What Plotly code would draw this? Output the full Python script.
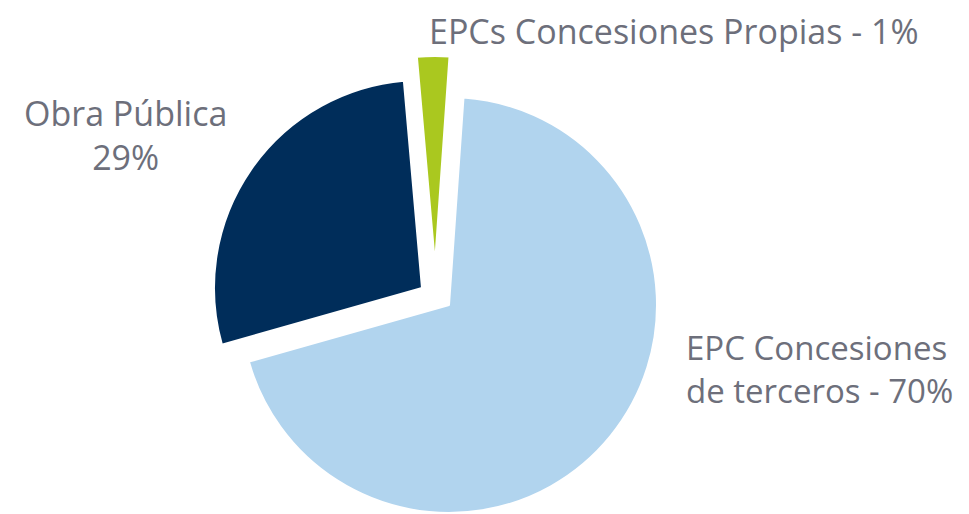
import plotly.graph_objects as go

# slice data
labels = ["EPC Concesiones de terceros", "Obra Pública", "EPCs Concesiones Propias"]
values = [69.5, 28.0, 2.5]
colors = ["#B1D4EE", "#002D5A", "#AAC81F"]

# text shown beside each slice
label_texts = [
    "EPC Concesiones<br>de terceros - 70%",
    "Obra Pública<br>29%",
    "EPCs Concesiones Propias - 1%",
]

# the page body has an 8px default margin, so the figure is shrunk by that
# much and every screen position below is shifted back by it
PAGE_MARGIN = 8
W, H = 969 - PAGE_MARGIN, 514 - PAGE_MARGIN
R = 208  # pie radius in px

# each slice is exploded by drawing it on its own pie with a shifted centre
# (screen px), so the explode offsets don't shrink the radius
centres = [(449, 305), (422, 288), (435, 264)]

# label anchor points (screen px), anchoring and font size
label_pos = [
    (684, 369, "left", 33),
    (125, 135, "center", 34),
    (427, 31, "left", 34),
]

TEXT_COLOR = "#6D6F7B"
FONT = "Open Sans, Arial, sans-serif"


def px_x(x):
    return (x - PAGE_MARGIN) / W


def px_y(y):
    return 1 - (y - PAGE_MARGIN) / H


fig = go.Figure()

for i, (cx, cy) in enumerate(centres):
    slice_colors = [c if j == i else "rgba(0,0,0,0)" for j, c in enumerate(colors)]
    line_colors = ["white" if j == i else "rgba(0,0,0,0)" for j in range(len(colors))]
    fig.add_trace(go.Pie(
        labels=labels,
        values=values,
        sort=False,
        direction="clockwise",
        rotation=4,
        marker=dict(colors=slice_colors, line=dict(color=line_colors, width=2)),
        textinfo="none",
        hoverinfo="label+percent",
        showlegend=False,
        domain=dict(
            x=[px_x(cx - R), px_x(cx + R)],
            y=[px_y(cy + R), px_y(cy - R)],
        ),
    ))

annotations = []
for txt, (x, y, anchor, size) in zip(label_texts, label_pos):
    annotations.append(dict(
        x=px_x(x), y=px_y(y), xref="paper", yref="paper",
        text=txt, showarrow=False,
        xanchor=anchor, yanchor="middle", align=anchor,
        font=dict(family=FONT, size=size, color=TEXT_COLOR),
    ))

fig.update_layout(
    width=W,
    height=H,
    margin=dict(l=0, r=0, t=0, b=0),
    paper_bgcolor="white",
    plot_bgcolor="white",
    annotations=annotations,
)

fig.write_html("out.html")
